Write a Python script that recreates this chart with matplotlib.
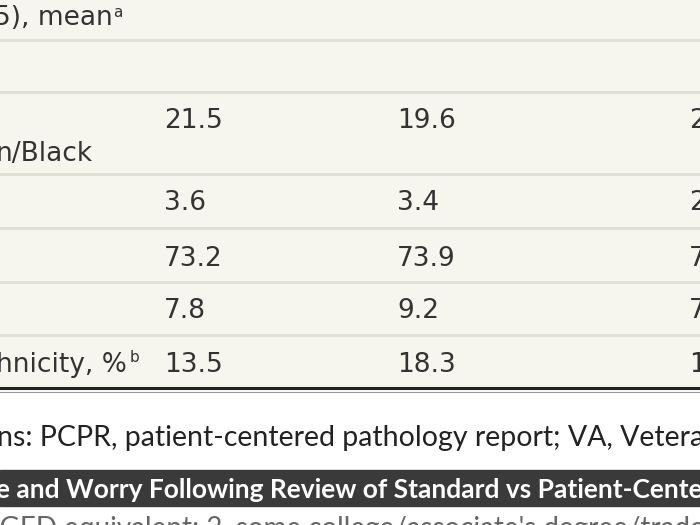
import matplotlib.pyplot as plt
from matplotlib.patches import Rectangle

# table content (left labels are cut off by the crop)
header = "5), mean"
row_labels = ["", "n/Black", "", "", "", "hnicity, %"]
col1 = ["21.5", "3.6", "73.2", "7.8", "13.5"]
col2 = ["19.6", "3.4", "73.9", "9.2", "18.3"]
col3 = ["20.4", "2.8", "75.1", "7.5", "16.0"]
footnote = "ns: PCPR, patient-centered pathology report; VA, Veterans Affairs"
banner = "e and Worry Following Review of Standard vs Patient-Centered Pathology Reports"
below = "'GED equivalent; 2, some college/associate's degree/trade school"

fig = plt.figure(figsize=(7, 5.25), dpi=100)
ax = fig.add_axes([0, 0, 1, 1])
ax.set_xlim(0, 700)
ax.set_ylim(525, 0)
ax.axis('off')

cream = '#f6f5ee'
ink = '#333333'
ax.add_patch(Rectangle((0, 0), 700, 389, color=cream, zorder=0))

# row separators
for y in [40, 92, 174, 228, 282, 335]:
    ax.axhline(y, color='#e2dfd5', lw=2.2, zorder=1)
ax.axhline(388, color='#222222', lw=2.2, zorder=1)
ax.axhline(391.5, color='#999999', lw=0.8, zorder=1)

fs = 19
ax.text(-6, 25, header, fontsize=fs, color=ink, va='baseline')
ax.text(113, 17, "a", fontsize=11, color=ink, va='baseline')

base = [128, 210, 266, 318, 372]
ax.text(-4, 161, row_labels[1], fontsize=fs, color=ink, va='baseline')
ax.text(-4, 372, row_labels[5], fontsize=fs, color=ink, va='baseline')
ax.text(130, 362, "b", fontsize=11, color=ink, va='baseline')

for i, y in enumerate(base):
    ax.text(164, y, col1[i], fontsize=fs, color=ink, va='baseline')
    ax.text(397, y, col2[i], fontsize=fs, color=ink, va='baseline')
    ax.text(689, y, col3[i], fontsize=fs, color=ink, va='baseline')

ax.text(-3, 446, footnote, fontsize=20.5, color='#222222', va='baseline',
        family=['Lato', 'DejaVu Sans'])

ax.add_patch(Rectangle((0, 470), 700, 36, color='#3a3a3a', zorder=2))
ax.text(-4, 498, banner, fontsize=19, color='white', va='baseline',
        family=['Lato', 'DejaVu Sans'], weight='bold', zorder=4)
ax.text(-6, 537, below, fontsize=20, color='#666666', va='baseline',
        family=['Lato', 'DejaVu Sans'])

fig.savefig('out.png', dpi=100)
